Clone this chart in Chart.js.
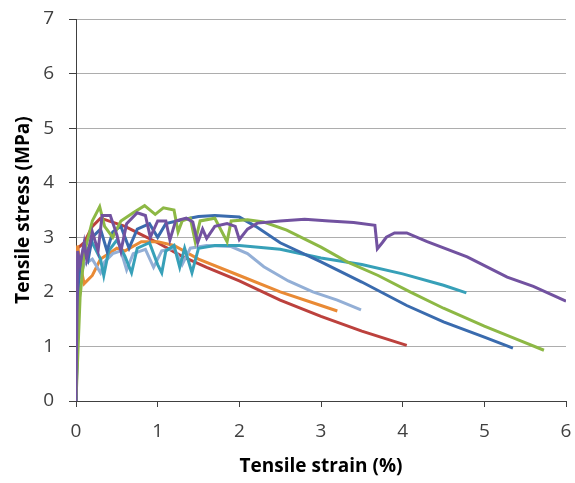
<!DOCTYPE html>
<html>
<head>
<meta charset="utf-8">
<script src="https://cdn.jsdelivr.net/npm/chart.js@4"></script>
<style>
  html, body { margin: 0; padding: 0; background: #fff; }
  #wrap { width: 575px; height: 483px; }
</style>
</head>
<body>
<div id="wrap"><canvas id="myChart" width="575" height="483"></canvas></div>
<script>
// strain (%) and stress (MPa), one pair per specimen
var redX = [0, 0.02, 0.1, 0.2, 0.3, 0.4, 0.6, 0.8, 1.0, 1.3, 1.6, 2.0, 2.5, 3.0, 3.5, 4.05];
var redY = [0, 2.8, 2.9, 3.2, 3.35, 3.3, 3.2, 3.05, 2.9, 2.65, 2.45, 2.2, 1.85, 1.55, 1.28, 1.02];

var orangeX = [0, 0.02, 0.05, 0.1, 0.2, 0.3, 0.4, 0.5, 0.6, 0.8, 1.0, 1.2, 1.5, 2.0, 2.5, 3.0, 3.2];
var orangeY = [0, 2.85, 2.5, 2.15, 2.3, 2.6, 2.7, 2.8, 2.75, 2.92, 2.92, 2.85, 2.6, 2.3, 2.0, 1.75, 1.65];

var lightBlueX = [0, 0.03, 0.1, 0.2, 0.3, 0.35, 0.45, 0.55, 0.62, 0.7, 0.85, 0.95, 1.05, 1.2, 1.3, 1.4, 1.6, 1.9, 2.1, 2.3, 2.6, 2.9, 3.2, 3.49];
var lightBlueY = [0, 2.2, 2.5, 2.6, 2.35, 2.55, 2.7, 2.75, 2.4, 2.7, 2.78, 2.45, 2.75, 2.8, 2.5, 2.8, 2.85, 2.83, 2.7, 2.46, 2.2, 2.0, 1.85, 1.67];

var tealX = [0, 0.03, 0.1, 0.2, 0.3, 0.34, 0.4, 0.5, 0.6, 0.68, 0.75, 0.9, 1.0, 1.05, 1.1, 1.2, 1.27, 1.33, 1.42, 1.5, 1.7, 2.0, 2.5, 3.0, 3.5, 4.0, 4.5, 4.78];
var tealY = [0, 2.3, 2.7, 2.9, 2.6, 2.3, 2.75, 2.95, 2.65, 2.35, 2.8, 2.9, 2.5, 2.35, 2.75, 2.85, 2.45, 2.8, 2.35, 2.8, 2.85, 2.85, 2.78, 2.62, 2.5, 2.33, 2.12, 1.98];

var blueX = [0, 0.04, 0.1, 0.15, 0.2, 0.3, 0.38, 0.45, 0.55, 0.65, 0.75, 0.9, 1.0, 1.1, 1.3, 1.5, 1.7, 2.0, 2.2, 2.5, 3.0, 3.5, 4.05, 4.5, 5.0, 5.35];
var blueY = [0, 2.4, 2.85, 2.6, 3.0, 3.15, 2.75, 3.1, 3.2, 2.8, 3.15, 3.25, 3.0, 3.25, 3.32, 3.38, 3.4, 3.37, 3.2, 2.9, 2.55, 2.18, 1.75, 1.45, 1.17, 0.97];

var greenX = [0, 0.05, 0.1, 0.2, 0.29, 0.35, 0.45, 0.55, 0.7, 0.84, 0.97, 1.07, 1.2, 1.25, 1.3, 1.4, 1.46, 1.52, 1.7, 1.85, 1.9, 2.1, 2.3, 2.58, 3.0, 3.32, 3.7, 4.09, 4.5, 5.0, 5.4, 5.73];
var greenY = [0, 1.9, 2.7, 3.3, 3.56, 3.2, 3.0, 3.3, 3.45, 3.58, 3.42, 3.54, 3.5, 3.1, 3.3, 3.35, 2.92, 3.3, 3.35, 2.92, 3.3, 3.32, 3.28, 3.13, 2.82, 2.55, 2.3, 2.0, 1.7, 1.37, 1.13, 0.93];

var purpleX = [0, 0.02, 0.05, 0.1, 0.13, 0.2, 0.27, 0.32, 0.42, 0.5, 0.55, 0.62, 0.75, 0.85, 0.91, 1.0, 1.1, 1.15, 1.22, 1.35, 1.43, 1.49, 1.55, 1.6, 1.7, 1.85, 1.95, 2.0, 2.1, 2.22, 2.5, 2.8, 3.1, 3.4, 3.66, 3.69, 3.75, 3.8, 3.9, 4.05, 4.3, 4.79, 5.28, 5.6, 6.0];
var purpleY = [0, 2.75, 2.5, 2.9, 2.6, 3.1, 2.75, 3.4, 3.4, 3.05, 2.75, 3.25, 3.45, 3.4, 3.0, 3.3, 3.3, 2.95, 3.3, 3.35, 3.28, 2.9, 3.15, 2.98, 3.2, 3.25, 3.2, 2.96, 3.15, 3.26, 3.3, 3.33, 3.3, 3.27, 3.22, 2.79, 2.9, 3.0, 3.08, 3.08, 2.92, 2.64, 2.27, 2.1, 1.83];

var xTicks = [0, 1, 2, 3, 4, 5, 6];
var yTicks = [0, 1, 2, 3, 4, 5, 6, 7];

function pts(xs, ys) {
    var out = [];
    for (var i = 0; i < xs.length; i++) out.push({x: xs[i], y: ys[i]});
    return out;
}

function line(xs, ys, colour, ord) {
    return {
        data: pts(xs, ys),
        borderColor: colour,
        backgroundColor: colour,
        borderWidth: 3,
        pointRadius: 0,
        tension: 0,
        fill: false,
        order: ord
    };
}

var font = "'Open Sans', Lato, sans-serif";

const ctx = document.getElementById('myChart');
const myChart = new Chart(ctx, {
    type: 'scatter',
    data: {
        datasets: [
            line(redX, redY, '#BC413D', 7),
            line(orangeX, orangeY, '#E98A35', 6),
            line(lightBlueX, lightBlueY, '#93AFD6', 5),
            line(tealX, tealY, '#37A0B8', 4),
            line(blueX, blueY, '#3A6BAE', 3),
            line(greenX, greenY, '#8DB845', 2),
            line(purpleX, purpleY, '#7252A0', 1)
        ]
    },
    options: {
        responsive: false,
        animation: false,
        showLine: true,
        layout: { padding: { left: 0, top: 19, right: 9, bottom: 0 } },
        plugins: { legend: { display: false }, tooltip: { enabled: false } },
        scales: {
            x: {
                type: 'linear',
                min: xTicks[0],
                max: xTicks[xTicks.length - 1],
                afterBuildTicks: function (s) { s.ticks = xTicks.map(function (v) { return {value: v}; }); },
                // fixed box, and don't let the label padding eat into the plot width
                afterFit: function (s) { s.height = 82; s.paddingLeft = 5; s.paddingRight = 5; },
                grid: { drawOnChartArea: false, tickLength: 6, tickColor: '#404040' },
                border: { color: '#404040', width: 1 },
                ticks: { color: '#404040', font: { family: font, size: 19 }, padding: 13 },
                title: {
                    display: true,
                    text: 'Tensile strain (%)',
                    color: '#000',
                    font: { family: font, size: 19, weight: 'bold' },
                    padding: { top: 0, bottom: 5 }
                }
            },
            y: {
                type: 'linear',
                min: yTicks[0],
                max: yTicks[yTicks.length - 1],
                afterBuildTicks: function (s) { s.ticks = yTicks.map(function (v) { return {value: v}; }); },
                afterFit: function (s) { s.width = 76; s.paddingTop = 10; s.paddingBottom = 10; },
                grid: { color: '#ADADAD', tickLength: 7, tickColor: '#404040', lineWidth: 1 },
                border: { color: '#404040', width: 1 },
                ticks: { color: '#404040', font: { family: font, size: 19 }, padding: 15 },
                title: {
                    display: true,
                    text: 'Tensile stress (MPa)',
                    color: '#000',
                    font: { family: font, size: 19, weight: 'bold' },
                    padding: { top: 12, bottom: 0 }
                }
            }
        }
    }
});
</script>
</body>
</html>
